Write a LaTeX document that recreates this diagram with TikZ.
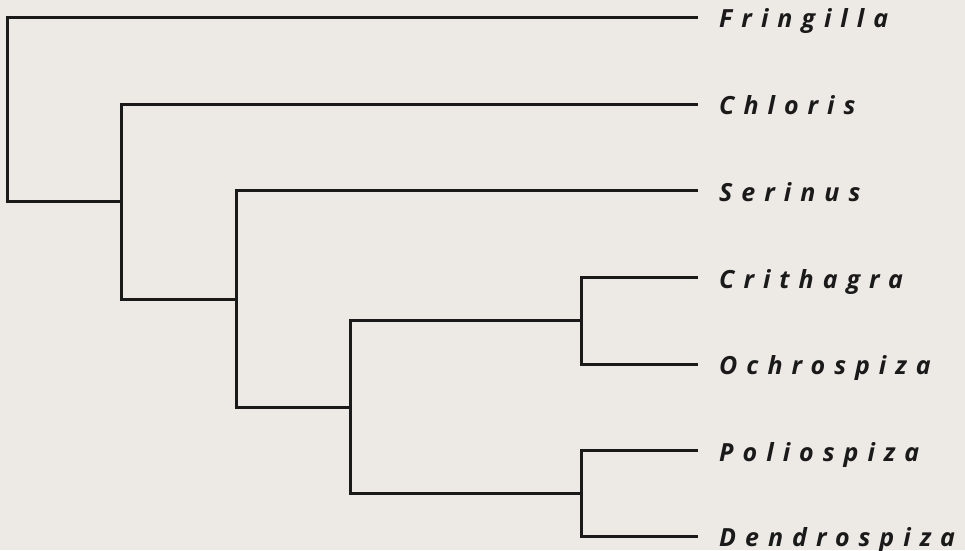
\documentclass[tikz,border=0pt]{standalone}
\usepackage{fontspec}
\newfontfamily\taxonfont[LetterSpace=36]{Open Sans}
\definecolor{paper}{HTML}{EDE9E4}
\definecolor{ink}{HTML}{1A1A1A}
\tikzset{
  branch/.style={ink,line width=3pt},
  taxon/.style={ink,anchor=base west,inner sep=0pt,
    font=\taxonfont\bfseries\itshape\fontsize{25}{25}\selectfont}
}

\begin{document}
\begin{tikzpicture}[x=1pt,y=-1pt,line join=miter]
  \fill[paper] (0,0) rectangle (965,550);
  \useasboundingbox (0,0) rectangle (965,550);

  % Tips of the branches and the genus names
  \foreach \tip/\y/\name in {fri/17/Fringilla,chl/104/Chloris,ser/190.5/Serinus,
      cri/277.5/Crithagra,och/364/Ochrospiza,pol/450.5/Poliospiza,den/536/Dendrospiza}{
    \coordinate (\tip) at (698,\y);
    \node[taxon] (\tip-name) at (719,\y+10.5) {\name};
  }

  % Forks of the tree
  \coordinate (root) at (7,109);
  \coordinate (forkA) at (121,201);
  \coordinate (forkB) at (236,299);
  \coordinate (forkC) at (350,407);
  \coordinate (forkD) at (581,320.75);
  \coordinate (forkE) at (581,493.25);

  % Branches
  \draw[branch] (root) |- (fri);
  \draw[branch] (root) |- (forkA);
  \draw[branch] (forkA) |- (chl);
  \draw[branch] (forkA) |- (forkB);
  \draw[branch] (forkB) |- (ser);
  \draw[branch] (forkB) |- (forkC);
  \draw[branch] (forkC) |- (forkD);
  \draw[branch] (forkC) |- (forkE);
  \draw[branch] (forkD) |- (cri);
  \draw[branch] (forkD) |- (och);
  \draw[branch] (forkE) |- (pol);
  \draw[branch] (forkE) |- (den);
\end{tikzpicture}
\end{document}
